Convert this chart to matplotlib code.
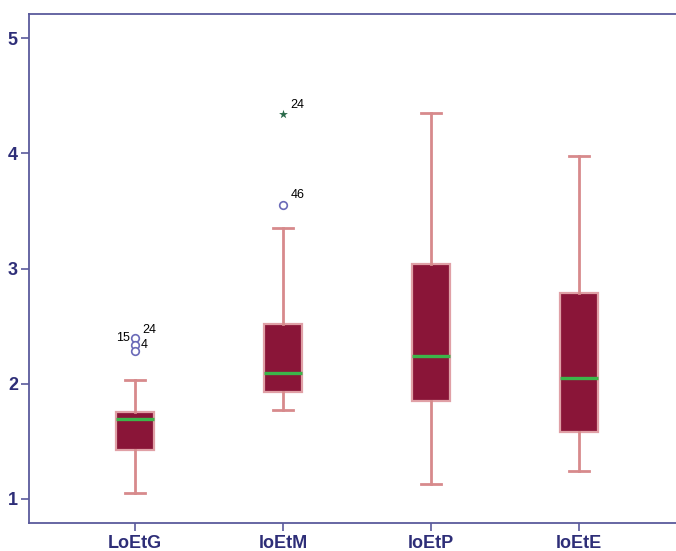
import matplotlib
matplotlib.use("Agg")
import matplotlib.pyplot as plt

# Variables on the x axis
categories = ["LoEtG", "loEtM", "loEtP", "loEtE"]

# Five-number summaries per variable
whisker_low = [1.05, 1.77, 1.13, 1.24]
q1 = [1.42, 1.93, 1.85, 1.58]
median = [1.69, 2.09, 2.24, 2.05]
q3 = [1.75, 2.52, 3.04, 2.79]
whisker_high = [2.03, 3.35, 4.35, 3.98]

# Outliers (circles) and extreme values (stars), with case labels
outlier_cat = [0, 0, 0, 1]
outlier_val = [2.40, 2.34, 2.28, 3.55]
extreme_cat = [1]
extreme_val = [4.34]

case_labels = [  # (category index, value, text, dx, dy)
    (0, 2.40, "15", -0.13, 0.0),
    (0, 2.40, "24", 0.05, 0.07),
    (0, 2.34, "4", 0.04, 0.0),
    (1, 3.55, "46", 0.05, 0.09),
    (1, 4.34, "24", 0.05, 0.08),
]

yticks = [1, 2, 3, 4, 5]

axis_color = "#5a5a9c"
label_color = "#2e2e78"
box_fill = "#8a1538"
box_edge = "#e0a0a6"
whisker_color = "#d78a8c"
median_color = "#3cb54a"

plt.rcParams["font.family"] = ["Liberation Sans", "DejaVu Sans"]

fig = plt.figure(figsize=(6.76, 5.51), dpi=100)
ax = fig.add_axes([29 / 676, 1 - 523 / 551, 1 - 29 / 676, (523 - 14) / 551])

stats = []
for i, name in enumerate(categories):
    stats.append(dict(label=name, whislo=whisker_low[i], q1=q1[i], med=median[i],
                      q3=q3[i], whishi=whisker_high[i], fliers=[]))

positions = list(range(1, len(categories) + 1))
ax.bxp(stats, positions=positions, widths=0.26, patch_artist=True,
       showfliers=False,
       boxprops=dict(facecolor=box_fill, edgecolor=box_edge, linewidth=1.6),
       medianprops=dict(color=median_color, linewidth=2.4),
       whiskerprops=dict(color=whisker_color, linewidth=2.0),
       capprops=dict(color=whisker_color, linewidth=2.0),
       capwidths=0.13)

ax.scatter([positions[c] for c in outlier_cat], outlier_val, s=30,
           facecolors="white", edgecolors="#6a6ab8", linewidths=1.2, zorder=4)
ax.scatter([positions[c] for c in extreme_cat], extreme_val, s=45,
           marker="*", color="#2a6a4a", zorder=4, linewidths=0)

for c, v, t, dx, dy in case_labels:
    ax.text(positions[c] + dx, v + dy, t, fontsize=9, color="black",
            ha="left", va="center")

ax.set_xlim(0.284, 4.655)
ax.set_ylim(0.79, 5.21)
ax.set_yticks(yticks)
ax.set_yticklabels([str(t) for t in yticks])
ax.set_xticks(positions)
ax.set_xticklabels(categories)

for side in ("left", "bottom", "top"):
    ax.spines[side].set_color(axis_color)
    ax.spines[side].set_linewidth(1.3)
ax.spines["right"].set_visible(False)

ax.tick_params(axis="both", colors=axis_color, length=6, width=1.2,
               labelcolor=label_color, labelsize=13)
for lbl in ax.get_xticklabels() + ax.get_yticklabels():
    lbl.set_fontweight("bold")
ax.tick_params(axis="x", pad=2.5)
ax.tick_params(axis="y", pad=2)

fig.savefig("out.png", dpi=100)
